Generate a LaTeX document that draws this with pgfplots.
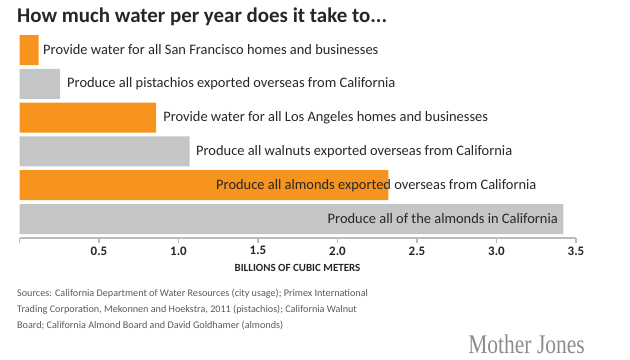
\documentclass[border=0pt]{standalone}
\usepackage{pgfplots}
\pgfplotsset{compat=1.18}
\usepackage{fontspec}
\setmainfont{Carlito}
\definecolor{mjorange}{HTML}{F7941D}
\definecolor{mjgray}{HTML}{C4C5C7}
\definecolor{axgray}{HTML}{BBBBBB}
\definecolor{txtgray}{HTML}{5A5A5A}
\tikzset{lbl/.style={font=\fontsize{14.5}{16}\selectfont,text=black!85,inner sep=0pt}}
\begin{document}
\begin{tikzpicture}[x=1bp,y=1bp]
\path[use as bounding box] (0,0) rectangle (630,359);
\node[anchor=base west,inner sep=0pt,font=\bfseries\fontsize{21}{24}\selectfont,text=black!85] at (17,337) {How much water per year does it take to...};
\begin{axis}[at={(19.5bp,121bp)},anchor=south west,scale only axis,
  width=556.5bp,height=208bp,
  xmin=0,xmax=3.5,ymin=0.408,ymax=6.562,y dir=reverse,
  axis y line=none, axis x line*=bottom,
  x axis line style={axgray,line width=1.2pt,-},
  xtick={0,0.5,...,3.5},
  xticklabels={{},0.5,1.0,1.5,2.0,2.5,3.0,3.5},
  xtick style={axgray,line width=1.2pt},
  tick align=outside, major tick length=5bp,
  tick label style={font=\bfseries\fontsize{13}{15}\selectfont,text=black!85},
  xbar, bar width=30bp, bar shift=0pt, clip=false,
]
\addplot[fill=mjorange,draw=none] coordinates {(0.12,1) (0.86,3) (2.32,5)};
\addplot[fill=mjgray,draw=none] coordinates {(0.255,2) (1.07,4) (3.42,6)};
\node[lbl,anchor=west] at (axis cs:0.148,1) {Provide water for all San Francisco homes and businesses};
\node[lbl,anchor=west] at (axis cs:0.299,2) {Produce all pistachios exported overseas from California};
\node[lbl,anchor=west] at (axis cs:0.903,3) {Provide water for all Los Angeles homes and businesses};
\node[lbl,anchor=west] at (axis cs:1.11,4) {Produce all walnuts exported overseas from California};
\node[lbl,anchor=west] at (axis cs:1.236,5) {Produce all almonds exported overseas from California};
\node[lbl,anchor=east] at (axis cs:3.387,6) {Produce all of the almonds in California};
\end{axis}
\node[font=\bfseries\fontsize{11}{13}\selectfont,text=black!85,inner sep=0pt] at (297.5,91) {BILLIONS OF CUBIC METERS};
\node[anchor=north west,align=left,inner sep=0pt,text=txtgray,font=\fontsize{10.2}{16}\selectfont] at (17,70) {Sources: California Department of Water Resources (city usage); Primex International\\Trading Corporation, Mekonnen and Hoekstra, 2011 (pistachios); California Walnut\\Board; California Almond Board and David Goldhamer (almonds)};
\node[anchor=base east,inner sep=0pt,text=black!45,font=\fontsize{27}{30}\selectfont,xscale=0.8] at (585,6) {\fontspec{Liberation Serif}Mother Jones};
\end{tikzpicture}
\end{document}
